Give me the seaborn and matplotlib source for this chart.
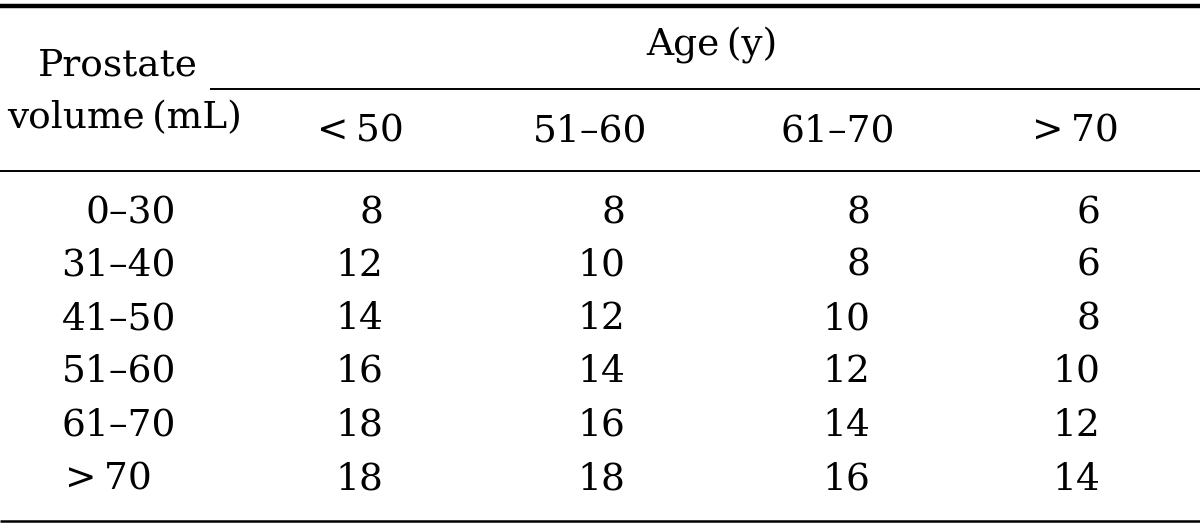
import matplotlib.pyplot as plt
import seaborn as sns

# table data
volume_labels = ['0–30', '31–40', '41–50', '51–60', '61–70', '>\u200970']
age_labels = ['<\u200950', '51–60', '61–70', '>\u200970']
age_lt50 = [8, 12, 14, 16, 18, 18]
age_51_60 = [8, 10, 12, 14, 16, 18]
age_61_70 = [8, 8, 10, 12, 14, 16]
age_gt70 = [6, 6, 8, 10, 12, 14]

sns.set_theme(style='white')
plt.rcParams['font.family'] = ['DejaVu Serif']
plt.rcParams['text.color'] = 'black'

f, ax = plt.subplots(figsize=(12, 5.32), dpi=100)
f.subplots_adjust(left=0, right=1, top=1, bottom=0)
ax.set_xlim(0, 1200)
ax.set_ylim(532, 0)
ax.axis('off')

fs = 27
row_y = [213, 266, 319, 372, 426, 480]
col_right = [383, 625, 870, 1100]
col_head_x = [360, 590, 838, 1075]

# rules
ax.plot([0, 1200], [6, 6], color='black', lw=3.2, solid_capstyle='butt')
ax.plot([210, 1200], [89, 89], color='black', lw=1.4, solid_capstyle='butt')
ax.plot([0, 1200], [171, 171], color='black', lw=1.4, solid_capstyle='butt')
ax.plot([0, 1200], [521, 521], color='black', lw=1.8, solid_capstyle='butt')

# header
ax.text(118, 65, 'Prostate', fontsize=fs, ha='center', va='center')
ax.text(125, 118, 'volume\u2009(mL)', fontsize=fs, ha='center', va='center')
ax.text(712, 46, 'Age\u2009(y)', fontsize=fs, ha='center', va='center')
for x, lab in zip(col_head_x, age_labels):
    ax.text(x, 131, lab, fontsize=fs, ha='center', va='center')

# row labels
for y, lab in zip(row_y, volume_labels):
    if lab.startswith('>'):
        ax.text(108, y, lab, fontsize=fs, ha='center', va='center')
    else:
        ax.text(176, y, lab, fontsize=fs, ha='right', va='center')

# values
for x, col in zip(col_right, [age_lt50, age_51_60, age_61_70, age_gt70]):
    for y, v in zip(row_y, col):
        ax.text(x, y, str(v), fontsize=fs, ha='right', va='center')

plt.savefig('out.png', dpi=100)
